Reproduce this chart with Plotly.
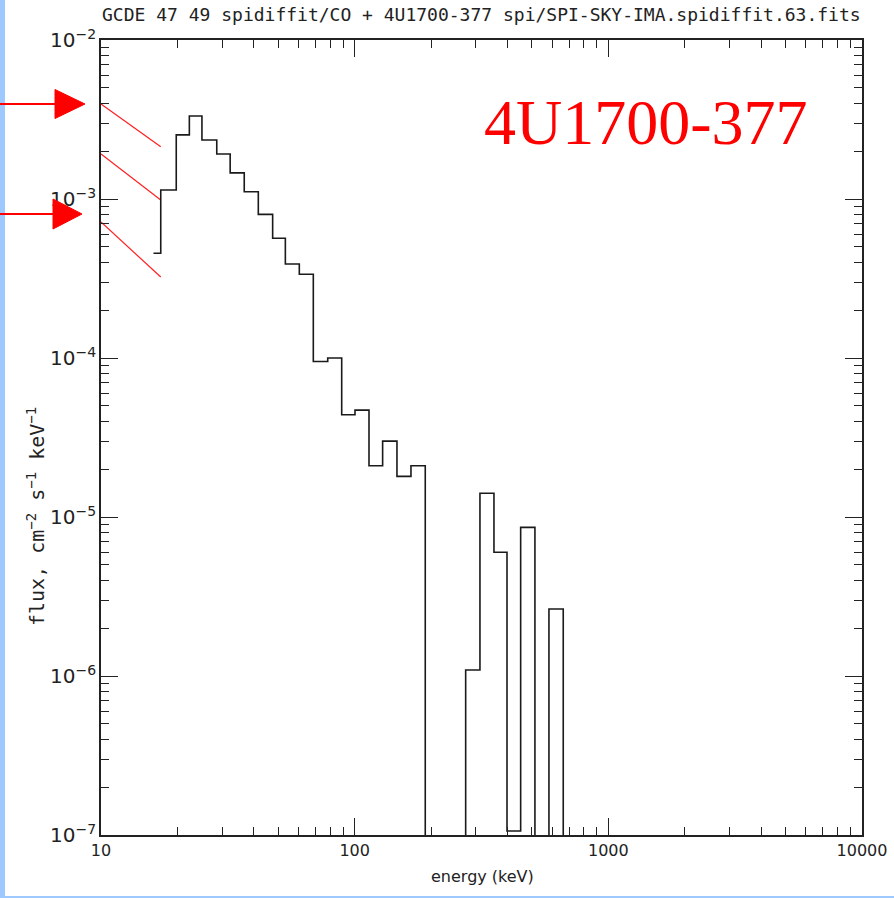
import plotly.graph_objects as go

# Spectrum: energy bin edges (keV) and flux per bin (cm^-2 s^-1 keV^-1); 0 = no flux
bin_edges = [16.1, 17.2, 19.8, 22.3, 25.0, 28.6, 32.3, 36.7, 41.7, 47.5, 53.3,
             60.5, 68.7, 78.3, 88.9, 100.3, 113.9, 128.9, 146.8, 166.7, 189.8,
             214.5, 242.4, 273.9, 311.8, 354.1, 398.6, 451.2, 513.6, 583.3,
             664.1, 750.0]
flux = [4.56e-4, 1.14e-3, 2.53e-3, 3.33e-3, 2.35e-3, 1.92e-3, 1.46e-3, 1.11e-3,
        8.0e-4, 5.66e-4, 3.9e-4, 3.36e-4, 9.5e-5, 1.0e-4, 4.4e-5, 4.7e-5,
        2.1e-5, 3.0e-5, 1.8e-5, 2.1e-5, 0, 0, 0, 1.09e-6, 1.41e-5, 6.0e-6,
        1.06e-7, 8.6e-6, 0, 2.64e-6, 0]

# Power-law model segments (start / end energy and flux)
model_energy = [10.0, 17.2]
model_flux = [
    [3.96e-3, 2.13e-3],
    [1.92e-3, 9.87e-4],
    [7.17e-4, 3.23e-4],
]

title_text = "GCDE 47 49 spidiffit/CO + 4U1700-377 spi/SPI-SKY-IMA.spidiffit.63.fits"
source_name = "4U1700-377"
x_title = "energy (keV)"
y_title = "flux, cm<sup>\u22122</sup> s<sup>\u22121</sup> keV<sup>\u22121</sup>"

W, H = 894, 898
ML, MR, MT, MB = 101, 32, 40, 63
PW, PH = W - ML - MR, H - MT - MB


def px(xp):
    return (xp - ML) / PW


def py(yp):
    return (H - MB - yp) / PH


floor = 1e-9  # zero-flux bins fall below the axis
step_y = [v if v > 0 else floor for v in flux]
step_y.append(step_y[-1])

fig = go.Figure()

for seg in model_flux:
    fig.add_trace(go.Scatter(x=model_energy, y=seg, mode="lines",
                             line=dict(color="#ff2020", width=1.2),
                             showlegend=False, hoverinfo="skip"))

fig.add_trace(go.Scatter(x=bin_edges, y=step_y, mode="lines",
                         line=dict(color="#1a1a1a", width=1.6, shape="hv"),
                         showlegend=False))

tick_font = dict(family="DejaVu Sans, sans-serif", size=16, color="#222")
minor_ticks = dict(ticks="inside", ticklen=8, tickwidth=1.2, tickcolor="#222",
                   showgrid=False)

fig.update_xaxes(type="log", range=[1, 4], showline=True, linecolor="#222",
                 linewidth=1.5, mirror="ticks", ticks="inside", ticklen=17,
                 tickwidth=1.2, tickcolor="#222", dtick=1, tickformat="d",
                 tickfont=tick_font, showgrid=False, zeroline=False,
                 automargin=False, minor=minor_ticks)

fig.update_yaxes(type="log", range=[-7, -2], showline=True, linecolor="#222",
                 linewidth=1.5, mirror="ticks", ticks="inside", ticklen=17,
                 tickwidth=1.2, tickcolor="#222", dtick=1,
                 exponentformat="power", tickfont=tick_font, showgrid=False,
                 zeroline=False, automargin=False, minor=minor_ticks)

shapes = [
    # frame strips
    dict(type="rect", xref="paper", yref="paper", x0=px(0), x1=px(5), y0=py(H), y1=py(0),
         fillcolor="#9ec9ff", line=dict(width=0), layer="above"),
    dict(type="rect", xref="paper", yref="paper", x0=px(0), x1=px(W), y0=py(H), y1=py(H - 2),
         fillcolor="#9ec9ff", line=dict(width=0), layer="above"),
]
# red pointer arrows on the left margin
for y_tip, x_base, x_tip, half in [(104, 55, 85, 14.5), (214, 53, 82, 15)]:
    shapes.append(dict(type="line", xref="paper", yref="paper",
                       x0=px(0), x1=px(x_base + 2), y0=py(y_tip), y1=py(y_tip),
                       line=dict(color="#ff0000", width=2)))
    shapes.append(dict(type="path", xref="paper", yref="paper",
                       path=f"M {px(x_base)} {py(y_tip - half)} L {px(x_tip)} {py(y_tip)} "
                            f"L {px(x_base)} {py(y_tip + half)} Z",
                       fillcolor="#ff0000", line=dict(color="#ff0000", width=1)))

annotations = [
    dict(text=title_text, xref="paper", yref="paper", x=0.5, y=py(27),
         xanchor="center", yanchor="bottom", showarrow=False,
         font=dict(family="DejaVu Sans Mono, monospace", size=18, color="#222")),
    dict(text=source_name, xref="paper", yref="paper", x=px(482), y=py(85),
         xanchor="left", yanchor="top", showarrow=False,
         font=dict(family="Liberation Serif, Times New Roman, serif", size=64,
                   color="#ff0000")),
    dict(text=x_title, xref="paper", yref="paper", x=px(482), y=py(876),
         xanchor="center", yanchor="middle", showarrow=False,
         font=dict(family="DejaVu Sans, sans-serif", size=16, color="#222")),
    dict(text=y_title, xref="paper", yref="paper", x=px(36), y=py(517),
         xanchor="center", yanchor="middle", showarrow=False, textangle=-90,
         font=dict(family="DejaVu Sans Mono, monospace", size=20, color="#222")),
]

fig.update_layout(width=W, height=H, margin=dict(l=ML, r=MR, t=MT, b=MB),
                  paper_bgcolor="white", plot_bgcolor="white",
                  shapes=shapes, annotations=annotations, showlegend=False)

fig.write_html("out.html")
